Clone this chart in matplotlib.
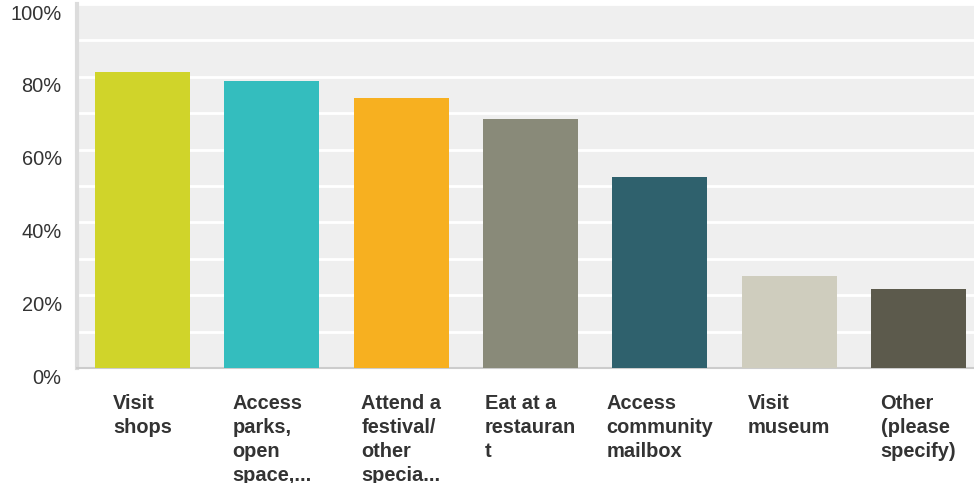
import matplotlib
matplotlib.use("Agg")
import matplotlib.pyplot as plt
import matplotlib.transforms as mtransforms

# data
categories = ["Visit\nshops", "Access\nparks,\nopen\nspace,...", "Attend a\nfestival/\nother\nspecia...",
              "Eat at a\nrestauran\nt", "Access\ncommunity\nmailbox", "Visit\nmuseum", "Other\n(please\nspecify)"]
values = [81.3, 78.8, 74.1, 68.3, 52.6, 25.3, 21.8]
colors = ["#d0d42a", "#34bdbe", "#f7b020", "#898a79", "#2f616d", "#cfcdbe", "#5c5a4c"]
yticks = [0, 20, 40, 60, 80, 100]
ytick_labels = ["0%", "20%", "40%", "60%", "80%", "100%"]

plt.rcParams['font.family'] = ['Liberation Sans', 'DejaVu Sans']

fig = plt.figure(figsize=(9.74, 4.83), dpi=100)
W, H = 974, 483
ax = fig.add_axes([77 / W, (H - 368) / H, (974 - 77) / W, (368 - 4) / H])
ax.set_facecolor("#efefef")

x = list(range(len(categories)))
ax.bar(x, values, width=0.735, color=colors, zorder=3)

ax.set_xlim(-0.507, 6.43)
ax.set_ylim(0, 100)

# grid every 10%, labels every 20%
ax.set_yticks(yticks)
ax.set_yticks([10, 30, 50, 70, 90], minor=True)
ax.set_yticklabels(ytick_labels, fontsize=14.4, color="#333333")
ax.grid(axis="y", which="both", color="white", linewidth=2, zorder=1)
ax.tick_params(axis="y", which="both", length=0, pad=11)
ax.set_xticks([])

# labels sit a little below their grid lines
offset = mtransforms.ScaledTranslation(0, -8 / 100, fig.dpi_scale_trans)
for lab in ax.get_yticklabels():
    lab.set_transform(lab.get_transform() + offset)

for s in ["top", "right"]:
    ax.spines[s].set_visible(False)
ax.spines["left"].set_color("#dcdcdc")
ax.spines["left"].set_linewidth(3)
ax.spines["bottom"].set_color("#cccccc")
ax.spines["bottom"].set_linewidth(1.5)

for i, lab in enumerate(categories):
    ax.text(i, -26 / 364, lab, transform=ax.get_xaxis_transform(), ha="center", va="top",
            multialignment="left", fontsize=14.4, fontweight="bold", color="#333333",
            linespacing=1.33)

fig.savefig("out.png", dpi=100)
